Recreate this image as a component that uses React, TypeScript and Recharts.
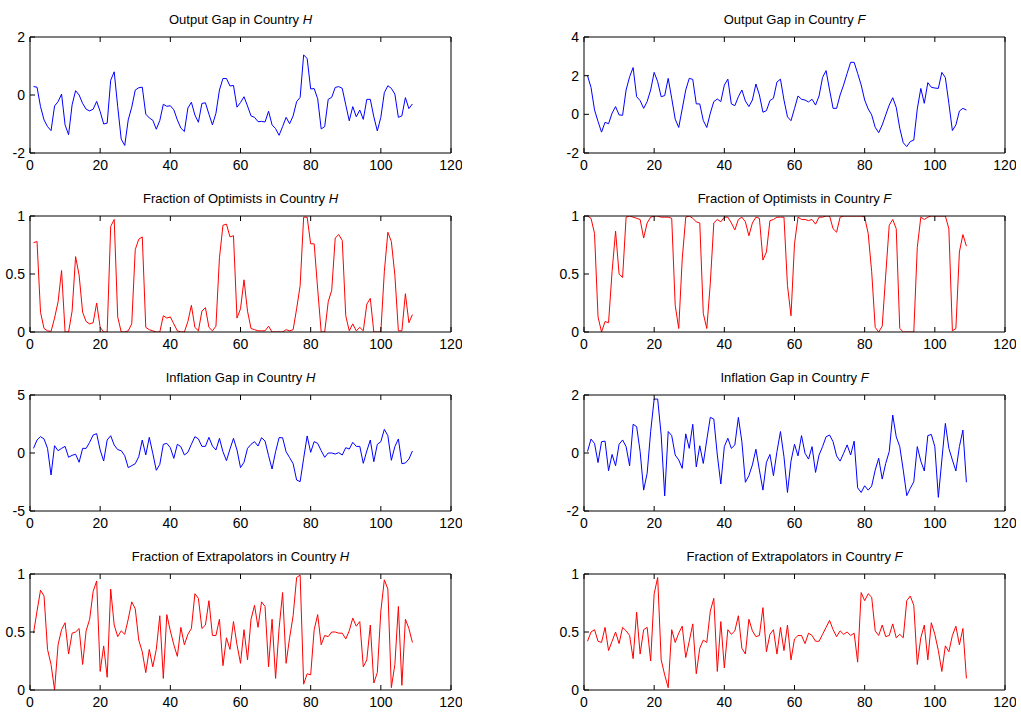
import React from 'react'
import { LineChart, Line, XAxis, YAxis } from 'recharts'

// x axis ticks shared by every panel
const xTicks = [0, 20, 40, 60, 80, 100, 120]

const outputGapH = [
  0.29, 0.27, -0.40, -0.86, -1.09, -1.23, -0.38, -0.23, 0.03, -1.03,
  -1.37, -0.34, 0.15, 0.00, -0.29, -0.49, -0.55, -0.49, -0.22, -0.57,
  -1.00, -0.97, 0.51, 0.80, -0.40, -1.52, -1.74, -0.86, -0.42, 0.17,
  0.25, 0.27, -0.66, -0.79, -0.87, -1.18, -0.88, -0.32, -0.39, -0.37,
  -0.51, -0.86, -1.14, -1.26, -0.45, -0.25, -0.69, -0.94, -0.29, -0.27,
  -0.66, -1.03, -0.63, 0.17, 0.57, 0.57, 0.31, 0.33, -0.42, -0.26,
  -0.06, -0.38, -0.72, -0.77, -0.92, -0.91, -0.93, -0.56, -1.03, -1.16,
  -1.39, -1.09, -0.77, -0.99, -0.72, -0.23, -0.08, 1.38, 1.26, 0.21,
  0.22, -0.13, -1.17, -1.09, -0.15, -0.08, 0.26, 0.29, 0.23, -0.34,
  -0.89, -0.40, -0.75, -0.52, -0.84, -0.15, -0.15, -0.75, -1.24, -0.77,
  0.08, 0.32, 0.23, 0.03, -0.77, -0.72, -0.09, -0.47, -0.31,
]

const outputGapF = [
  2.00, 1.39, 0.23, -0.37, -0.92, -0.41, -0.49, 0.06, 0.40, -0.03,
  -0.05, 1.26, 1.94, 2.42, 0.91, 0.71, 0.31, 0.66, 1.26, 2.17,
  1.69, 0.91, 0.97, 1.86, 0.83, -0.25, -0.68, 0.28, 1.26, 1.86,
  1.81, 0.54, 0.54, -0.32, -0.68, 0.06, 0.66, 0.79, 0.66, 1.51,
  1.82, 0.54, 0.45, 0.91, 1.26, 0.69, 0.40, 0.74, 1.57, 1.00,
  0.11, 0.19, 0.71, 0.83, 1.67, 1.82, 0.74, -0.13, -0.33, 0.30,
  0.95, 0.78, 0.74, 0.64, 0.78, 0.48, 0.95, 1.91, 2.26, 1.26,
  0.31, 0.31, 1.00, 1.52, 2.12, 2.69, 2.69, 2.12, 1.52, 0.74,
  0.28, -0.03, -0.67, -0.95, -0.55, -0.03, 0.48, 0.86, 0.36, -0.72,
  -1.47, -1.67, -1.41, -1.33, 0.28, 1.34, 0.57, 1.64, 1.40, 1.36,
  1.34, 2.17, 1.90, 0.57, -0.84, -0.55, 0.17, 0.31, 0.22,
]

const optimistsH = [
  0.77, 0.78, 0.17, 0.03, 0.01, 0.005, 0.12, 0.26, 0.53, 0.00,
  0.00, 0.18, 0.65, 0.49, 0.17, 0.09, 0.07, 0.08, 0.25, 0.04,
  0.00, 0.00, 0.91, 0.97, 0.13, 0.00, 0.00, 0.01, 0.07, 0.71,
  0.80, 0.82, 0.04, 0.02, 0.01, 0.00, 0.00, 0.14, 0.12, 0.13,
  0.07, 0.01, 0.00, 0.00, 0.09, 0.23, 0.04, 0.01, 0.18, 0.21,
  0.04, 0.01, 0.05, 0.64, 0.92, 0.93, 0.82, 0.83, 0.12, 0.20,
  0.45, 0.18, 0.03, 0.02, 0.01, 0.01, 0.01, 0.05, 0.00, 0.00,
  0.00, 0.00, 0.02, 0.01, 0.02, 0.20, 0.40, 0.99, 0.99, 0.76,
  0.76, 0.37, 0.00, 0.00, 0.26, 0.36, 0.81, 0.84, 0.79, 0.14,
  0.01, 0.07, 0.01, 0.04, 0.01, 0.24, 0.29, 0.00, 0.00, 0.00,
  0.52, 0.86, 0.78, 0.49, 0.01, 0.01, 0.33, 0.08, 0.15,
]

const optimistsF = [
  1.00, 0.98, 0.85, 0.13, 0.00, 0.09, 0.08, 0.52, 0.87, 0.50,
  0.47, 0.99, 1.00, 0.99, 0.98, 0.97, 0.81, 0.94, 0.99, 1.00,
  1.00, 0.99, 0.99, 0.99, 0.98, 0.23, 0.03, 0.63, 0.99, 1.00,
  0.98, 0.95, 0.94, 0.16, 0.03, 0.42, 0.94, 0.97, 0.95, 0.99,
  0.99, 0.94, 0.88, 0.97, 0.99, 0.95, 0.83, 0.94, 0.99, 0.98,
  0.62, 0.69, 0.96, 0.97, 0.99, 0.99, 0.99, 0.40, 0.14, 0.76,
  0.99, 0.97, 0.97, 0.96, 0.97, 0.93, 0.99, 0.99, 1.00, 1.00,
  0.89, 0.86, 0.99, 1.00, 1.00, 1.00, 1.00, 1.00, 1.00, 0.99,
  0.85, 0.52, 0.04, 0.00, 0.05, 0.49, 0.92, 0.97, 0.89, 0.03,
  0.00, 0.00, 0.00, 0.00, 0.73, 0.99, 0.97, 0.99, 1.00, 1.00,
  1.00, 1.00, 1.00, 0.89, 0.01, 0.03, 0.69, 0.84, 0.74,
]

const inflationH = [
  0.40, 1.12, 1.41, 1.21, 0.40, -1.90, 0.63, 0.20, 0.40, 0.57,
  -0.37, -0.20, -0.11, -0.80, 0.40, 0.40, 0.92, 1.55, 1.67, 0.26,
  -0.69, 1.12, 1.49, 0.69, 0.29, 0.20, -0.23, -1.26, -1.09, -0.92,
  -0.32, 1.12, -0.17, 1.35, -0.03, -1.49, -0.98, 0.75, 0.83, 0.46,
  -0.46, 0.75, 0.55, -0.17, 0.06, 0.75, 1.41, 1.21, 0.57, 0.57,
  1.35, 0.60, 0.26, 1.26, 0.11, -0.66, 0.34, 1.26, 0.26, -1.26,
  -0.80, 0.40, 0.75, 0.98, 0.60, 1.32, 1.03, -0.23, -1.38, 0.11,
  1.32, 1.32, 0.11, -0.40, -0.92, -2.33, -2.47, -0.46, 1.47, 0.06,
  0.98, 0.83, 0.20, -0.37, 0.00, 0.00, -0.09, 0.03, -0.17, 0.46,
  0.34, 0.92, 0.57, 0.57, -0.89, 0.17, 1.12, -0.75, 0.75, 0.98,
  2.04, 1.49, -0.63, 0.55, 1.21, -0.92, -0.86, -0.52, 0.17,
]

const inflationF = [
  0.05, 0.48, 0.33, -0.33, 0.39, 0.41, -0.61, -0.05, -0.44, 0.30,
  0.45, 0.22, -0.44, 0.99, 0.91, 0.05, -1.28, -0.70, 0.74, 1.86,
  1.86, 0.62, -1.48, 0.74, 0.60, -0.07, -0.24, -0.53, 0.66, 0.16,
  0.99, -0.48, 0.25, -0.36, 0.45, 1.23, 1.17, -0.07, -1.07, 0.22,
  0.51, 0.16, 0.28, 1.23, 0.39, -1.01, -0.78, -0.41, 0.13, -0.59,
  -1.28, -0.32, -0.05, -0.78, 0.05, 0.74, -0.13, -1.36, -0.28, 0.30,
  -0.10, 0.60, -0.01, -0.21, 0.22, -0.67, -0.07, 0.22, 0.56, 0.62,
  0.39, -0.10, -0.28, -0.01, 0.28, -0.07, 0.41, -1.20, -1.36, -1.13,
  -1.28, -1.14, -0.59, -0.18, -0.90, -0.36, 0.05, 1.31, 0.56, 0.22,
  -0.59, -1.47, -1.22, -0.99, 0.22, -0.28, -0.62, 0.60, 0.64, 0.22,
  -1.53, -0.24, 1.02, 0.16, -0.24, -0.62, 0.22, 0.79, -1.01,
]

const extrapolatorsH = [
  0.49, 0.68, 0.86, 0.81, 0.35, 0.22, 0.00, 0.39, 0.52, 0.58,
  0.31, 0.49, 0.50, 0.53, 0.22, 0.51, 0.61, 0.85, 0.94, 0.16,
  0.38, 0.11, 0.87, 0.56, 0.46, 0.51, 0.48, 0.61, 0.76, 0.70,
  0.43, 0.33, 0.15, 0.35, 0.20, 0.35, 0.64, 0.10, 0.65, 0.51,
  0.39, 0.29, 0.54, 0.39, 0.48, 0.53, 0.83, 0.79, 0.53, 0.56,
  0.77, 0.47, 0.47, 0.61, 0.21, 0.45, 0.35, 0.59, 0.39, 0.23,
  0.52, 0.26, 0.61, 0.73, 0.54, 0.76, 0.72, 0.20, 0.61, 0.10,
  0.53, 0.84, 0.23, 0.45, 0.64, 0.97, 0.99, 0.05, 0.14, 0.13,
  0.52, 0.65, 0.39, 0.47, 0.46, 0.50, 0.50, 0.49, 0.49, 0.44,
  0.51, 0.62, 0.55, 0.59, 0.20, 0.26, 0.56, 0.06, 0.15, 0.68,
  0.95, 0.87, 0.02, 0.22, 0.72, 0.04, 0.61, 0.53, 0.41,
]

const extrapolatorsF = [
  0.42, 0.50, 0.52, 0.42, 0.41, 0.54, 0.34, 0.42, 0.50, 0.40,
  0.54, 0.51, 0.47, 0.27, 0.67, 0.31, 0.52, 0.54, 0.25, 0.83,
  0.97, 0.26, 0.13, 0.02, 0.52, 0.41, 0.49, 0.55, 0.28, 0.42,
  0.57, 0.14, 0.36, 0.43, 0.41, 0.68, 0.79, 0.16, 0.59, 0.19,
  0.52, 0.48, 0.51, 0.64, 0.36, 0.31, 0.61, 0.51, 0.46, 0.47,
  0.71, 0.33, 0.48, 0.52, 0.31, 0.54, 0.34, 0.56, 0.26, 0.44,
  0.47, 0.47, 0.40, 0.49, 0.47, 0.42, 0.42, 0.48, 0.54, 0.60,
  0.52, 0.46, 0.51, 0.48, 0.50, 0.47, 0.49, 0.24, 0.84, 0.77,
  0.83, 0.80, 0.51, 0.47, 0.56, 0.46, 0.47, 0.57, 0.45, 0.48,
  0.45, 0.77, 0.81, 0.73, 0.22, 0.45, 0.56, 0.26, 0.58, 0.48,
  0.34, 0.16, 0.38, 0.33, 0.47, 0.55, 0.39, 0.53, 0.10,
]

const fractionTicks = [0, 0.5, 1]

const PLOT_W = 421
const PLOT_H = 116
const colLeft = [30, 584]
const rowTop = [37, 216, 395, 574]

const toRows = (vals: number[]) => vals.map((v, i) => ({ t: i + 1, v }))
const blank = () => ''

type PanelProps = {
  title: string
  country: string
  values: number[]
  color: string
  domain: [number, number]
  yTicks: number[]
  col: number
  row: number
}

function Panel({ title, country, values, color, domain, yTicks, col, row }: PanelProps) {
  const plotLeft = colLeft[col]
  const plotTop = rowTop[row]
  return (
    <>
      <div
        style={{
          position: 'absolute', left: plotLeft, top: plotTop - 25, width: PLOT_W,
          textAlign: 'center', fontSize: 13, lineHeight: '16px', color: '#000'
        }}
      >
        {title} <i>{country}</i>
      </div>
      <div style={{ position: 'absolute', left: plotLeft - 40, top: plotTop - 30 }}>
        <LineChart
          width={40 + PLOT_W + 11}
          height={30 + PLOT_H + 27}
          data={toRows(values)}
          margin={{ top: 29, right: 10, bottom: 1, left: 0 }}
        >
          <XAxis
            xAxisId="b" dataKey="t" type="number" domain={[0, 120]} ticks={xTicks}
            orientation="bottom" height={26} tickSize={-5} tickMargin={12}
            stroke="#000" tick={{ fill: '#000', fontSize: 14 }} allowDataOverflow
          />
          <XAxis
            xAxisId="t" dataKey="t" type="number" domain={[0, 120]} ticks={xTicks}
            orientation="top" height={1} tickSize={-5} tickFormatter={blank} stroke="#000"
          />
          <YAxis
            yAxisId="l" domain={domain} ticks={yTicks} width={40} tickSize={-5} tickMargin={10}
            stroke="#000" tick={{ fill: '#000', fontSize: 14 }} allowDataOverflow
          />
          <YAxis
            yAxisId="r" orientation="right" domain={domain} ticks={yTicks} width={1}
            tickSize={-5} tickFormatter={blank} stroke="#000"
          />
          <Line
            xAxisId="b" yAxisId="l" dataKey="v" stroke={color} strokeWidth={1}
            dot={false} isAnimationActive={false}
          />
        </LineChart>
      </div>
    </>
  )
}

export default function App() {
  return (
    <div
      style={{
        position: 'absolute', left: 0, top: 0, width: 1021, height: 715, background: '#fff',
        fontFamily: '"Liberation Sans", Arial, sans-serif'
      }}
    >
      <Panel title="Output Gap in Country" country="H" values={outputGapH} color="#0000ff"
        domain={[-2, 2]} yTicks={[-2, 0, 2]} col={0} row={0} />
      <Panel title="Output Gap in Country" country="F" values={outputGapF} color="#0000ff"
        domain={[-2, 4]} yTicks={[-2, 0, 2, 4]} col={1} row={0} />
      <Panel title="Fraction of Optimists in Country" country="H" values={optimistsH} color="#ff0000"
        domain={[0, 1]} yTicks={fractionTicks} col={0} row={1} />
      <Panel title="Fraction of Optimists in Country" country="F" values={optimistsF} color="#ff0000"
        domain={[0, 1]} yTicks={fractionTicks} col={1} row={1} />
      <Panel title="Inflation Gap in Country" country="H" values={inflationH} color="#0000ff"
        domain={[-5, 5]} yTicks={[-5, 0, 5]} col={0} row={2} />
      <Panel title="Inflation Gap in Country" country="F" values={inflationF} color="#0000ff"
        domain={[-2, 2]} yTicks={[-2, 0, 2]} col={1} row={2} />
      <Panel title="Fraction of Extrapolators in Country" country="H" values={extrapolatorsH} color="#ff0000"
        domain={[0, 1]} yTicks={fractionTicks} col={0} row={3} />
      <Panel title="Fraction of Extrapolators in Country" country="F" values={extrapolatorsF} color="#ff0000"
        domain={[0, 1]} yTicks={fractionTicks} col={1} row={3} />
    </div>
  )
}
